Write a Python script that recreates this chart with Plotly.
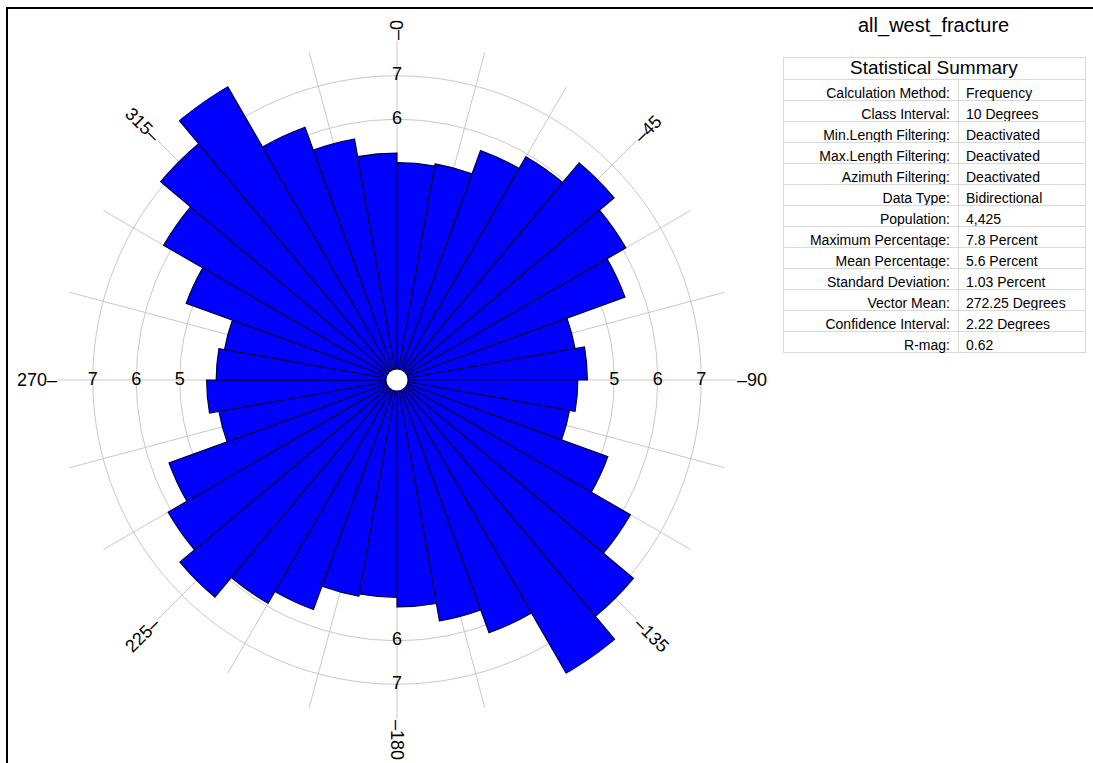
import math
import plotly.graph_objects as go

W, H = 1093, 763
FONT = "Liberation Sans, Arial, sans-serif"

# ---- data -------------------------------------------------------------
bin_start = list(range(0, 180, 10))            # class starts, degrees
pct = [5.00, 5.05, 5.62, 5.93, 6.52, 6.08, 5.58, 4.16, 4.38,
       4.16, 4.03, 5.16, 6.20, 7.10, 7.80, 6.19, 5.63, 5.22]   # percent
class_width = 10
r_max = 7.8

angle_labels = [0, 45, 90, 135, 180, 225, 270, 315]
grid_angles = list(range(0, 360, 15))
radial_ticks = [5, 6, 7]
# radial labels visible along each cardinal direction
radial_label_theta = [0, 0, 90, 90, 90, 180, 180, 270, 270, 270]
radial_label_r = [6, 7, 5, 6, 7, 6, 7, 5, 6, 7]

title_text = "all_west_fracture"
summary_title = "Statistical Summary"
stat_labels = ["Calculation Method:", "Class Interval:", "Min.Length Filtering:",
               "Max.Length Filtering:", "Azimuth Filtering:", "Data Type:",
               "Population:", "Maximum Percentage:", "Mean Percentage:",
               "Standard Deviation:", "Vector Mean:", "Confidence Interval:", "R-mag:"]
stat_values = ["Frequency", "10 Degrees", "Deactivated", "Deactivated", "Deactivated",
               "Bidirectional", "4,425", "7.8 Percent", "5.6 Percent", "1.03 Percent",
               "272.25 Degrees", "2.22 Degrees", "0.62"]

# bidirectional data: each class mirrored at +180
theta = [b + class_width / 2 for b in bin_start] + [b + 180 + class_width / 2 for b in bin_start]
r = pct + pct

# ---- layout geometry (pixels) ----------------------------------------
CX, CY, R = 397, 380, 339
px = lambda x: x / W
py = lambda y: 1 - y / H

fig = go.Figure()

fig.add_trace(go.Barpolar(
    r=r, theta=theta, width=[class_width] * len(r),
    marker=dict(color="#0000ff", line=dict(color="#000040", width=1.2)),
    opacity=1, showlegend=False, hoverinfo="r+theta"))

# centre hole
fig.add_trace(go.Scatterpolar(
    r=[0], theta=[0], mode="markers",
    marker=dict(size=21, color="white", line=dict(width=0)),
    showlegend=False, hoverinfo="skip"))

# radial labels
fig.add_trace(go.Scatterpolar(
    r=radial_label_r, theta=radial_label_theta, mode="text",
    text=[str(v) for v in radial_label_r],
    textfont=dict(family=FONT, size=18, color="black"),
    textposition="middle center", showlegend=False, hoverinfo="skip"))

# summary tables
tx0, tx1 = px(783), px(1085)
line_style = dict(color="#d9d9d9", width=1)
fig.add_trace(go.Table(
    domain=dict(x=[tx0, tx1], y=[py(80), py(57)]),
    columnwidth=[1],
    header=dict(values=[""], align="center", height=22,
                fill_color="white", line=line_style),
    cells=dict(values=[[]], height=0, fill_color="white", line=line_style)))

cell_font = dict(family=FONT, size=14, color="black")
fig.add_trace(go.Table(
    domain=dict(x=[tx0, tx1], y=[py(360), py(79)]),
    columnwidth=[175, 127],
    header=dict(values=[stat_labels[0], stat_values[0]], align=["right", "left"],
                height=21, font=cell_font, fill_color="white", line=line_style),
    cells=dict(values=[stat_labels[1:], stat_values[1:]], align=["right", "left"],
               height=21, font=cell_font, fill_color="white", line=line_style)))

# angular labels, oriented along the radius
annotations = []
fs = 18
for a in angle_labels:
    if 0 <= a <= 180:
        txt = "\u2013" + str(a)
        ang = a - 90
    else:
        txt = str(a) + "\u2013"
        ang = a - 270
    w = len(txt) * 0.556 * fs
    rc = R + w / 2 + 1
    xp = CX + rc * math.sin(math.radians(a))
    yp = CY - rc * math.cos(math.radians(a))
    annotations.append(dict(x=px(xp), y=py(yp), xref="paper", yref="paper",
                            text=txt, showarrow=False, textangle=ang,
                            xanchor="center", yanchor="middle",
                            font=dict(family=FONT, size=fs, color="black")))

annotations.append(dict(x=px(933), y=py(25), xref="paper", yref="paper",
                        text=title_text, showarrow=False, xanchor="center",
                        yanchor="middle", font=dict(family=FONT, size=20, color="black")))
annotations.append(dict(x=(tx0 + tx1) / 2, y=py(68), xref="paper", yref="paper",
                        text=summary_title, showarrow=False, xanchor="center",
                        yanchor="middle", font=dict(family=FONT, size=19, color="black")))

fig.update_layout(
    width=W, height=H, margin=dict(l=0, r=0, t=0, b=0),
    paper_bgcolor="white", plot_bgcolor="white",
    font=dict(family=FONT, color="black"),
    showlegend=False,
    polar=dict(
        domain=dict(x=[px(CX - R), px(CX + R)], y=[py(CY + R), py(CY - R)]),
        bgcolor="white",
        angularaxis=dict(direction="clockwise", rotation=90, tickmode="array",
                         tickvals=grid_angles, showticklabels=False, ticks="",
                         showline=False, gridcolor="#c8c8c8", gridwidth=1,
                         layer="below traces"),
        radialaxis=dict(range=[0, r_max], tickmode="array", tickvals=radial_ticks,
                        showticklabels=False, ticks="", showline=False,
                        gridcolor="#c8c8c8", gridwidth=1, layer="below traces"),
    ),
    annotations=annotations,
    shapes=[
        dict(type="line", xref="paper", yref="paper", x0=px(6), x1=px(1093), y0=py(8), y1=py(8),
             line=dict(color="black", width=2)),
        dict(type="line", xref="paper", yref="paper", x0=px(7), x1=px(7), y0=py(8), y1=py(763),
             line=dict(color="black", width=2)),
    ],
)

fig.write_html("out.html", config={"displayModeBar": False},
               post_script="document.body.style.margin='0';document.body.style.overflow='hidden';")
